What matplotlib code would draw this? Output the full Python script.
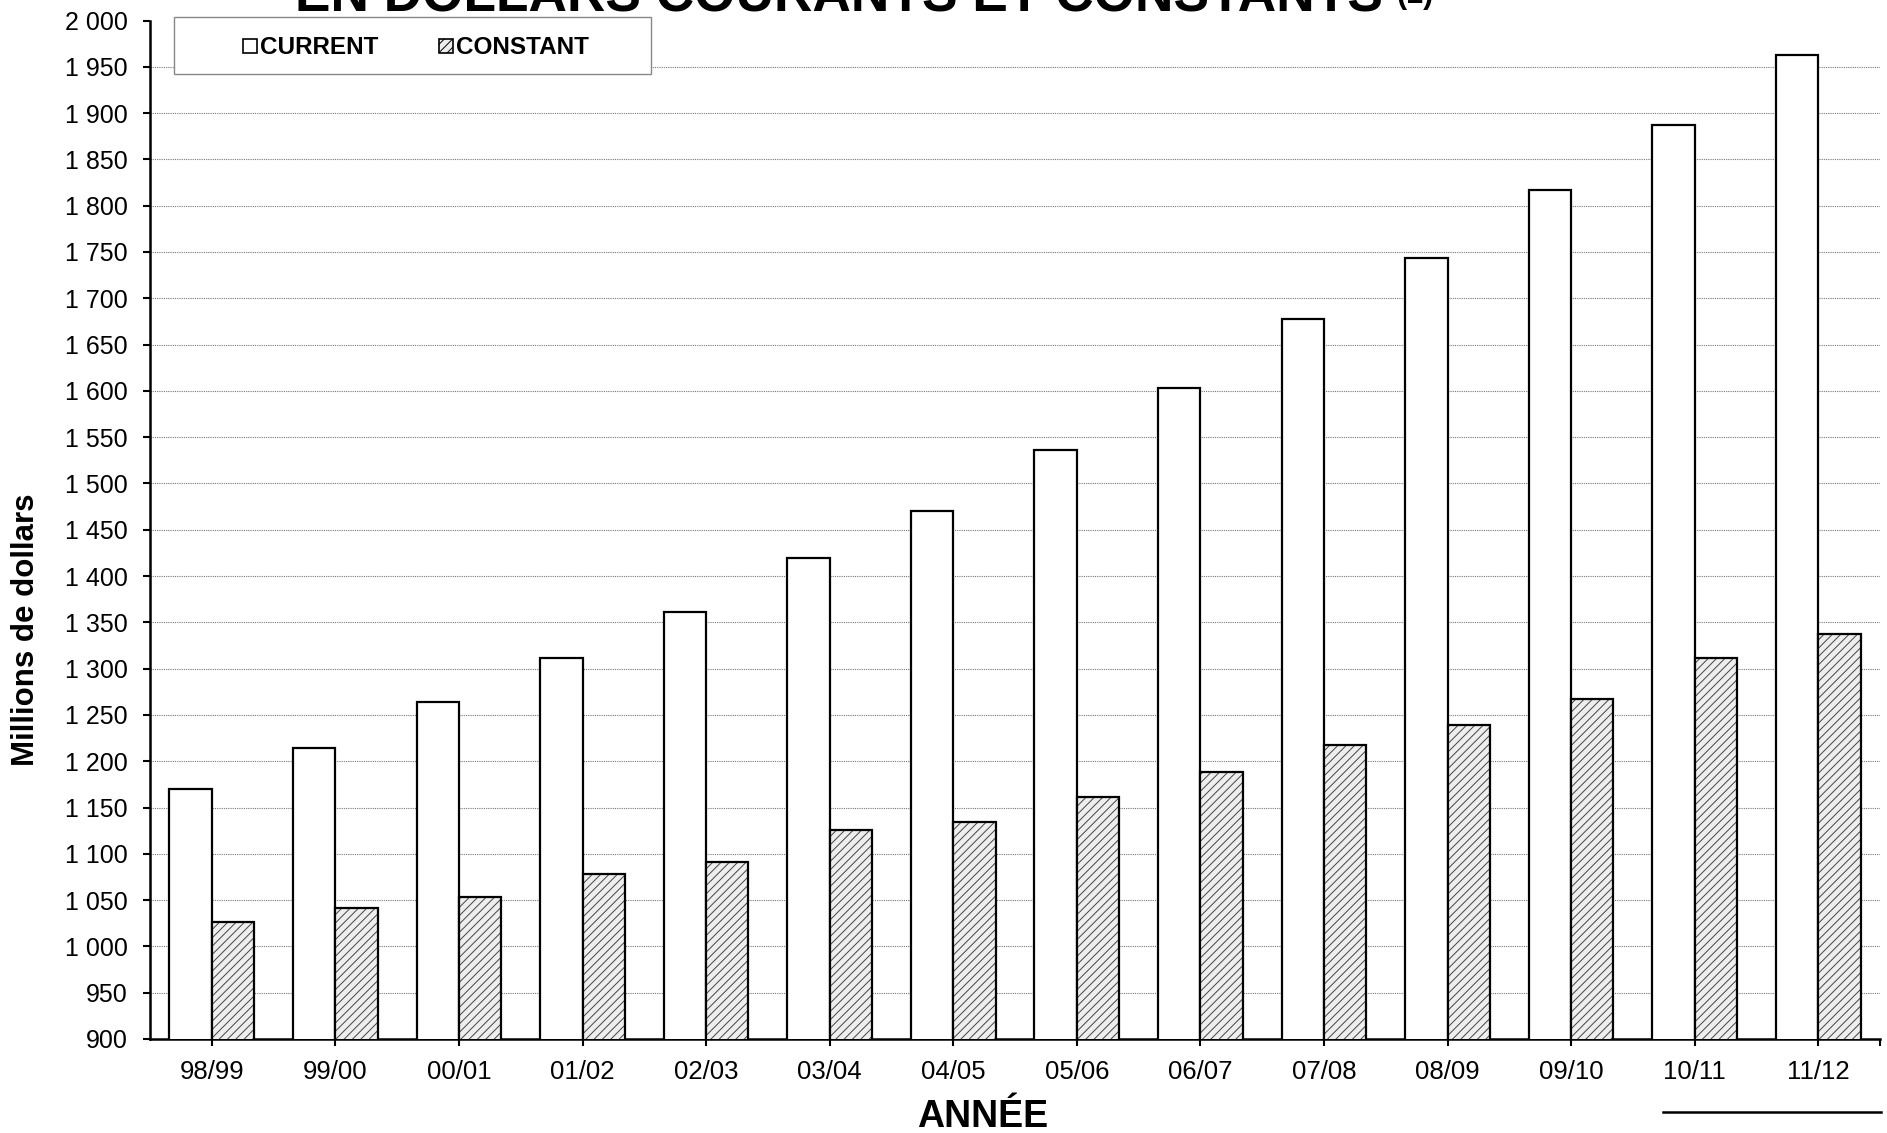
import numpy as np
import matplotlib
matplotlib.use('Agg')
import matplotlib.pyplot as plt
from matplotlib.patches import Patch, Rectangle
from matplotlib.lines import Line2D
from matplotlib.ticker import FuncFormatter

plt.rcParams['font.family'] = ['Liberation Sans', 'DejaVu Sans']
plt.rcParams['hatch.linewidth'] = 0.7

years = ['98/99', '99/00', '00/01', '01/02', '02/03', '03/04', '04/05',
         '05/06', '06/07', '07/08', '08/09', '09/10', '10/11', '11/12']
current = [1170, 1214, 1264, 1312, 1361, 1419, 1470, 1536, 1603, 1678, 1744, 1817, 1887, 1963]
constant = [1026, 1041, 1053, 1078, 1091, 1126, 1134, 1161, 1188, 1218, 1239, 1267, 1312, 1337]

W, H = 1887, 1133
fig = plt.figure(figsize=(W / 100, H / 100), dpi=100)
ax = fig.add_axes([150 / W, 1 - 1039 / H, (1880 - 150) / W, (1039 - 20.5) / H])

x = np.arange(len(years))
w = 0.343
ax.bar(x - w / 2, current, w, color='white', edgecolor='black', linewidth=1.6, zorder=3)
# hachures grises puis contour noir par-dessus
ax.bar(x + w / 2, constant, w, color='#eeeeee', edgecolor='#444444', linewidth=0, hatch='////', zorder=3)
ax.bar(x + w / 2, constant, w, fill=False, edgecolor='black', linewidth=1.6, zorder=4)

ax.set_xlim(-0.5, len(years) - 0.5)
ax.set_ylim(900, 2000)
ax.set_yticks(np.arange(900, 2001, 50))
ax.yaxis.set_major_formatter(FuncFormatter(lambda v, p: f'{int(v):,}'.replace(',', ' ')))
ax.set_xticks(x)
ax.set_xticklabels(years)
ax.set_xticks([len(years) - 0.5], minor=True)

ax.tick_params(axis='both', which='both', direction='out', length=5, width=1.5)
ax.tick_params(axis='x', pad=10, labelsize=18.5)
ax.tick_params(axis='y', pad=11, labelsize=18)

ax.set_axisbelow(True)
ax.yaxis.grid(True, linestyle=(0, (1, 1)), color='#777777', linewidth=0.8)
ax.yaxis.get_gridlines()[-1].set_visible(False)

for side in ['top', 'right']:
    ax.spines[side].set_visible(False)
ax.spines['left'].set_linewidth(1.8)
ax.spines['bottom'].set_linewidth(1.8)

# titre coupé en haut
fig.text(295 / W, 1 - 11 / H, 'EN DOLLARS COURANTS ET CONSTANTS', fontsize=38.3,
         fontweight='bold', ha='left', va='baseline')
fig.text(1396 / W, 1 - 3 / H, '(1)', fontsize=22, fontweight='bold', ha='left', va='baseline')

fig.text(26 / W, 1 - 630 / H, 'Millions de dollars', rotation=90, fontsize=22.5,
         fontweight='bold', ha='center', va='center')
fig.text(983 / W, 1 - 1127 / H, 'ANNÉE', fontsize=27, fontweight='bold', ha='center', va='baseline')

# légende
box = Rectangle((174 / W, 1 - 74 / H), 477 / W, 57 / H, transform=fig.transFigure,
                facecolor='white', edgecolor='#888888', linewidth=1, zorder=5)
fig.add_artist(box)
handles = [Patch(facecolor='white', edgecolor='black', linewidth=1.2),
           Patch(facecolor='#eeeeee', edgecolor='black', linewidth=1.2, hatch='////')]
leg = fig.legend(handles, ['CURRENT', 'CONSTANT'], loc='center left',
                 bbox_to_anchor=(231 / W, 1 - 48 / H), ncol=2, frameon=False,
                 borderpad=0, handlelength=0.55, handleheight=0.55, handletextpad=0.15,
                 columnspacing=2.5, prop={'weight': 'bold', 'size': 17.5})
leg.set_zorder(6)

fig.add_artist(Line2D([1663 / W, 1881 / W], [1 - 1112 / H, 1 - 1112 / H],
                      transform=fig.transFigure, color='black', linewidth=1.8))

fig.savefig('out.png', dpi=100)
